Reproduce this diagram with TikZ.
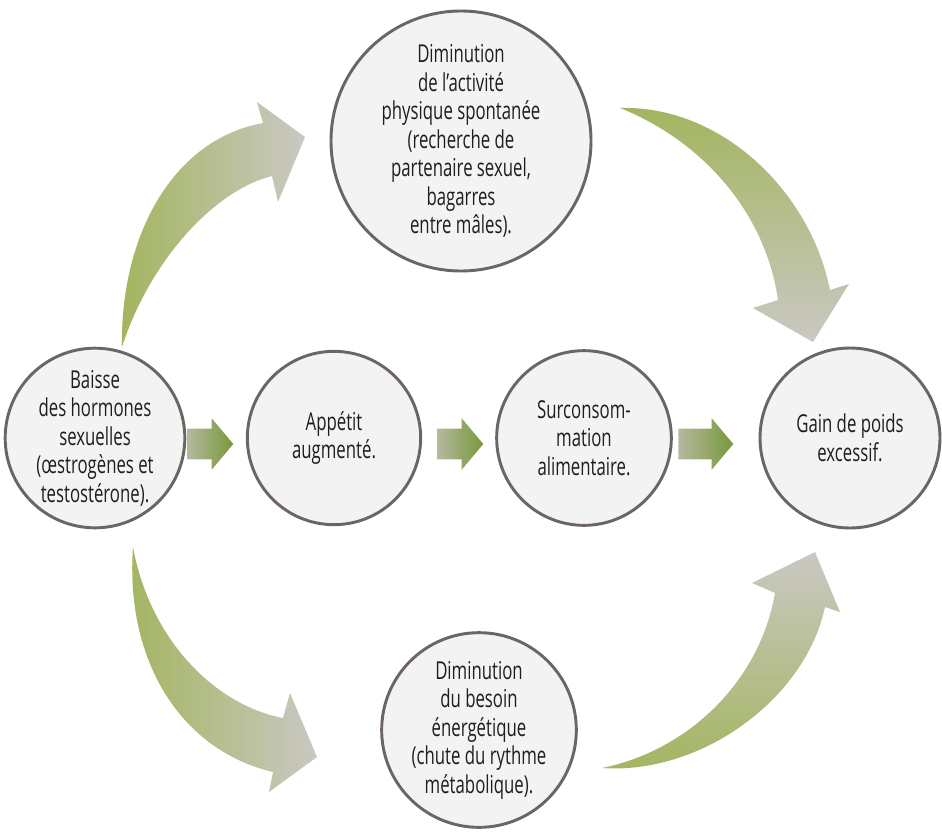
\documentclass[tikz,border=0pt]{standalone}
\usepackage{fontspec}
\setmainfont{Open Sans}[FakeStretch=0.68]
\usetikzlibrary{shapes.arrows}
\definecolor{hormGreen}{HTML}{A3B55F}
\definecolor{hormGray}{HTML}{CAC8C3}
\definecolor{hormDark}{HTML}{77993A}
\definecolor{hormPale}{HTML}{B5B89F}
\definecolor{hormRim}{HTML}{6D6562}
\definecolor{hormFill}{HTML}{F3F3F3}
\definecolor{hormText}{HTML}{1E1E1E}

\begin{document}
\begin{tikzpicture}[x=0.75pt,y=-0.75pt,
  bulle/.style={circle,draw=hormRim,line width=2.2pt,fill=hormFill,align=center,inner sep=0pt,
    text=hormText,font=\fontsize{18.5pt}{21.4pt}\selectfont},
  fleche/.style={single arrow,anchor=tail,inner xsep=0pt,inner ysep=11.25pt,text height=0pt,text depth=0pt,
    single arrow head extend=7.9pt,single arrow tip angle=100,left color=hormPale,right color=hormDark}]
  \path[use as bounding box] (0,0) rectangle (942,835);
  % curved arrows
  \shade[left color=hormGreen,right color=hormGray]
    (122,347) .. controls (120,240) and (170,140) .. (263,123)
    -- (257,102) -- (305,137) -- (278,202) -- (272,176)
    .. controls (215,190) and (150,260) .. (122,347) -- cycle;
  \shade[top color=hormGreen,bottom color=hormGray]
    (620,108) .. controls (720,105) and (810,190) .. (830,290)
    -- (849,284) -- (813,342) -- (753,308) -- (778,300)
    .. controls (765,210) and (700,140) .. (620,108) -- cycle;
  \shade[left color=hormGreen,right color=hormGray]
    (133,547) .. controls (125,660) and (180,750) .. (273,772)
    -- (269,792) -- (317,757) -- (290,693) -- (283,718)
    .. controls (215,705) and (150,640) .. (133,547) -- cycle;
  \shade[top color=hormGray,bottom color=hormGreen]
    (602,768) .. controls (700,775) and (805,700) .. (825,607)
    -- (840,612) -- (815,552) -- (752,583) -- (775,593)
    .. controls (760,680) and (690,750) .. (602,768) -- cycle;
  % straight arrows
  \node[fleche,minimum height=34.5pt] (f1) at (187,444) {};
  \node[fleche,minimum height=34.5pt] (f2) at (437,444) {};
  \node[fleche,minimum height=41.25pt] (f3) at (678,444) {};
  % circles
  \node[bulle,minimum size=132pt] (baisse) at (95,438)
    {Baisse\\des hormones\\sexuelles\\(œstrogènes et\\testostérone).};
  \node[bulle,minimum size=130pt] (appetit) at (334,438) {Appétit\\augmenté.};
  \node[bulle,minimum size=131pt] (surconso) at (584,438) {Surconsom-\\mation\\alimentaire.};
  \node[bulle,minimum size=135pt] (gain) at (850,438) {Gain de poids\\excessif.};
  \node[bulle,minimum size=195pt] (activite) at (461,141)
    {Diminution\\de l’activité\\physique spontanée\\(recherche de\\partenaire sexuel,\\bagarres\\entre mâles).};
  \node[bulle,minimum size=146pt] (besoin) at (479,730)
    {Diminution\\du besoin\\énergétique\\(chute du rythme\\métabolique).};
\end{tikzpicture}
\end{document}
